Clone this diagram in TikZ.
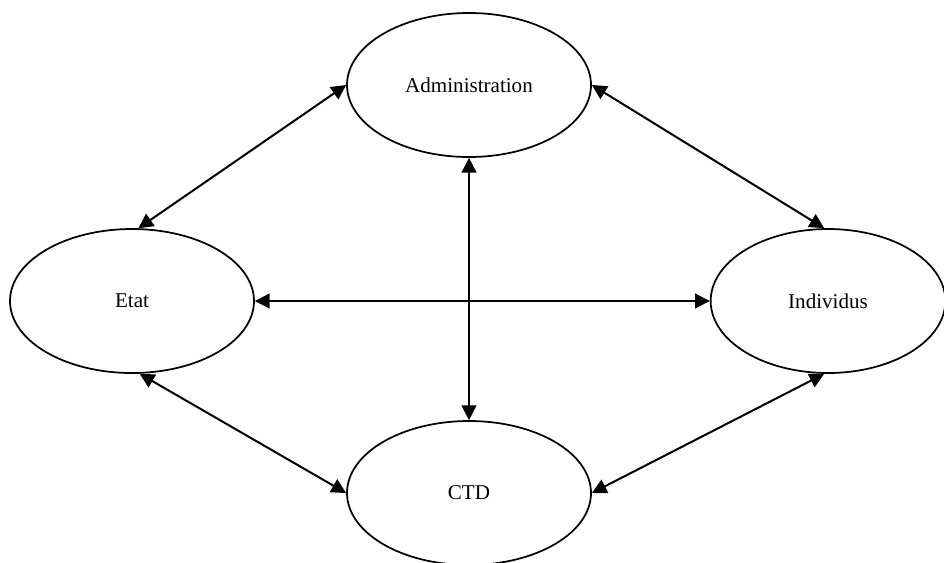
\documentclass[tikz,border=0pt]{standalone}
\usepackage{fontspec}
\setmainfont{Liberation Serif}
\usetikzlibrary{shapes.geometric,arrows.meta}

\begin{document}
\begin{tikzpicture}[
    x=0.75pt, y=-0.75pt,
    actor/.style={draw,ellipse,line width=1.3pt,inner sep=0pt,minimum width=183pt,minimum height=108pt,font=\fontsize{15.8}{19}\selectfont},
    link/.style={{Triangle[length=11pt,width=11pt]}-{Triangle[length=11pt,width=11pt]},line width=1.5pt}
  ]
    \useasboundingbox (0,0) rectangle (944,562);
    \node[actor] (admin) at (469,85) {Administration};
    \node[actor] (etat) at (132,301) {Etat};
    \node[actor,minimum width=176pt] (indiv) at (828,301) {Individus};
    \node[actor] (ctd) at (469,493) {CTD};
    \draw[link] (admin.west) -- (etat.85);
    \draw[link] (admin.east) -- (indiv.93);
    \draw[link] (admin.south) -- (ctd.north);
    \draw[link] (etat.east) -- (indiv.west);
    \draw[link] (etat.-84) -- (ctd.west);
    \draw[link] (indiv.-93) -- (ctd.east);
  \end{tikzpicture}
\end{document}
